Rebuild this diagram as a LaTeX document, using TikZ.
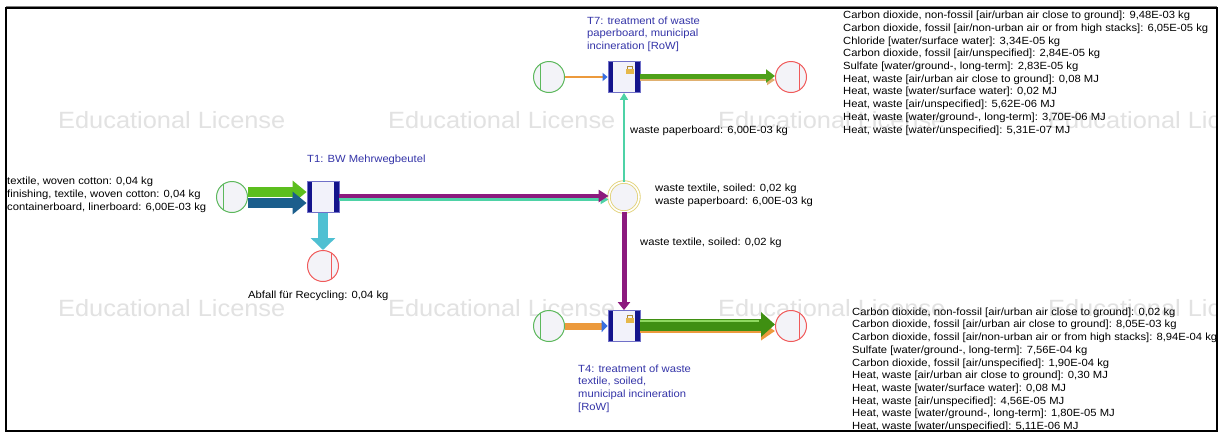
\documentclass[tikz,border=0pt]{standalone}
\usepackage{fontspec}
\setmainfont{Liberation Sans}[FakeStretch=1.08]
\usetikzlibrary{arrows.meta}
\definecolor{boxfill}{HTML}{F2F2FA}
\definecolor{boxedge}{HTML}{7070C8}
\definecolor{boxnavy}{HTML}{14148C}
\definecolor{circfill}{HTML}{F3F3F8}
\definecolor{srcgreen}{HTML}{5CB85C}
\definecolor{sinkred}{HTML}{F05A5A}
\definecolor{hubyellow}{HTML}{E2D27A}
\definecolor{labelblue}{HTML}{3434A8}
\definecolor{flowgreen}{HTML}{5CBE1E}
\definecolor{darkgreen}{HTML}{3F8F12}
\definecolor{lightgreen}{HTML}{8ED860}
\definecolor{flowblue}{HTML}{1B5E8C}
\definecolor{flowcyan}{HTML}{4FC0D2}
\definecolor{flowpurple}{HTML}{8C1A7E}
\definecolor{flowmint}{HTML}{4ED2A6}
\definecolor{floworange}{HTML}{EC9A3C}
\definecolor{flowtan}{HTML}{E0B070}
\definecolor{tipblue}{HTML}{3A6FE0}
\definecolor{lockgold}{HTML}{E6B84A}
\definecolor{wmgray}{HTML}{E2E2E2}
\tikzset{
  procbox/.style={draw=boxedge, fill=boxfill, line width=0.8pt, minimum width=32pt, minimum height=31pt, inner sep=0pt,
    path picture={
      \fill[boxnavy] (path picture bounding box.north west) rectangle ([xshift=5pt]path picture bounding box.south west);
      \fill[boxnavy] (path picture bounding box.north east) rectangle ([xshift=-5pt]path picture bounding box.south east);}},
  srccirc/.style={circle, draw=srcgreen, fill=circfill, line width=1pt, minimum size=31pt, inner sep=0pt,
    path picture={\draw[srcgreen, line width=1pt] ([xshift=-9pt]path picture bounding box.north) -- ([xshift=-9pt]path picture bounding box.south);}},
  sinkcirc/.style={circle, draw=sinkred, fill=circfill, line width=1pt, minimum size=31pt, inner sep=0pt,
    path picture={\draw[sinkred, line width=1pt] ([xshift=8pt]path picture bounding box.north) -- ([xshift=8pt]path picture bounding box.south);}},
  hubcirc/.style={circle, draw=hubyellow, double=white, double distance=1.6pt, line width=0.9pt, fill=circfill, minimum size=30pt, inner sep=0pt},
  flowlabel/.style={font=\fontsize{10.4}{12.7}\selectfont, inner sep=0pt, align=left},
  proclabel/.style={flowlabel, text=labelblue},
  watermark/.style={font=\fontsize{23.5}{28}\selectfont, text=wmgray, inner sep=0pt, anchor=west},
}
\begin{document}
\begin{tikzpicture}[x=1pt,y=-1pt]
\useasboundingbox (0,0) rectangle (1219,432);
\fill[white] (0,0) rectangle (1219,432);
% watermarks
\begin{scope}
\clip (7,9) rectangle (1216,429);
\foreach \wx/\wy [count=\i] in {58/120,388/120,718/120,1048/120,58/308,388/308,718/308,1048/308}
  \node[watermark] (wm\i) at (\wx,\wy) {Educational License};
\end{scope}
% nodes
\node[srccirc] (in1) at (232,197) {};
\node[procbox] (t1) at (323,197) {};
\node[sinkcirc] (out1) at (323,266) {};
\node[hubcirc] (hub) at (624,197) {};
\node[srccirc] (in7) at (549,77) {};
\node[procbox] (t7) at (624,77) {};
\node[sinkcirc] (out7) at (791,77) {};
\node[srccirc] (in4) at (549,326) {};
\node[procbox] (t4) at (624,326) {};
\node[sinkcirc] (out4) at (791,326) {};
% locks
\foreach \b in {t7,t4} {
  \draw[lockgold!75!black, line width=0.9pt] ([xshift=-12.5pt,yshift=-8pt]\b.north east) -- ++(0,-3) -- ++(5,0) -- ++(0,3);
  \fill[lockgold] ([xshift=-14pt,yshift=-7.5pt]\b.north east) rectangle ([xshift=-6pt,yshift=-12.5pt]\b.north east);
}
% flows
\draw[flowgreen, line width=10pt, -{Triangle[length=14pt,width=22pt]}] ([yshift=5pt]in1.east) -- ([yshift=5pt]t1.west);
\draw[flowblue, line width=10pt, -{Triangle[length=14pt,width=22pt]}] ([yshift=-6pt]in1.east) -- ([yshift=-6pt]t1.west);
\draw[flowcyan, line width=10pt, -{Triangle[length=12pt,width=24pt]}] (t1.south) -- (out1.north);
\draw[flowmint, line width=2.5pt, -{Triangle[length=8pt,width=9pt]}] ([yshift=-2.5pt]t1.east) -- ([yshift=-2.5pt]hub.west);
\draw[flowpurple, line width=4pt, -{Triangle[length=10pt,width=12pt]}] ([yshift=1pt]t1.east) -- ([yshift=1pt]hub.west);
\draw[flowmint, line width=1.5pt, -{Triangle[length=7pt,width=8pt]}] (hub.north) -- (t7.south);
\draw[flowpurple, line width=5pt, -{Triangle[length=8pt,width=12pt]}] (hub.south) -- (t4.north);
\draw[floworange, line width=2.5pt, -{Triangle[length=5pt,width=8pt,color=tipblue]}] (in7.east) -- (t7.west);
\draw[flowtan, line width=2pt, -{Triangle[length=8pt,width=10pt]}] ([yshift=-3pt]t7.east) -- ([yshift=-3pt]out7.west);
\draw[flowgreen!85!black, line width=5pt, -{Triangle[length=9pt,width=13pt]}] ([yshift=1pt]t7.east) -- ([yshift=1pt]out7.west);
\draw[floworange, line width=7pt, -{Triangle[length=6pt,width=12pt,color=tipblue]}] (in4.east) -- (t4.west);
\draw[floworange, line width=4pt, -{Triangle[length=14pt,width=18pt]}] ([yshift=-5pt]t4.east) -- ([yshift=-5pt]out4.west);
\draw[darkgreen, line width=12pt, -{Triangle[length=14pt,width=24pt]}] ([yshift=1.5pt]t4.east) -- ([yshift=1.5pt]out4.west);
\draw[lightgreen, line width=1.5pt] ([yshift=5pt]t4.east) -- ([xshift=-16pt,yshift=5pt]out4.west);
% labels
\node[proclabel, anchor=west] (t1lab) at (307,160) {T1: BW Mehrwegbeutel};
\node[proclabel, anchor=north west] (t7lab) at (587,16.5) {T7: treatment of waste\\paperboard, municipal\\incineration {[RoW]}};
\node[proclabel, anchor=north west] (t4lab) at (578,364.5) {T4: treatment of waste\\textile, soiled,\\municipal incineration\\{[RoW]}};
\node[flowlabel, anchor=north west] (inlab) at (7,177) {textile, woven cotton: 0,04 kg\\finishing, textile, woven cotton: 0,04 kg\\containerboard, linerboard: 6,00E-03 kg};
\node[flowlabel, anchor=west] (out1lab) at (248,296) {Abfall für Recycling: 0,04 kg};
\node[flowlabel, anchor=north west] (hublab) at (655,184) {waste textile, soiled: 0,02 kg\\waste paperboard: 6,00E-03 kg};
\node[flowlabel, anchor=west] (uplab) at (630,131) {waste paperboard: 6,00E-03 kg};
\node[flowlabel, anchor=west] (downlab) at (640,243) {waste textile, soiled: 0,02 kg};
\begin{scope}
\clip (7,9) rectangle (1216,429.5);
\node[flowlabel, anchor=north west] (out7lab) at (843,11) {Carbon dioxide, non-fossil [air/urban air close to ground]: 9,48E-03 kg\\Carbon dioxide, fossil [air/non-urban air or from high stacks]: 6,05E-05 kg\\Chloride [water/surface water]: 3,34E-05 kg\\Carbon dioxide, fossil [air/unspecified]: 2,84E-05 kg\\Sulfate [water/ground-, long-term]: 2,83E-05 kg\\Heat, waste [air/urban air close to ground]: 0,08 MJ\\Heat, waste [water/surface water]: 0,02 MJ\\Heat, waste [air/unspecified]: 5,62E-06 MJ\\Heat, waste [water/ground-, long-term]: 3,70E-06 MJ\\Heat, waste [water/unspecified]: 5,31E-07 MJ};
\node[flowlabel, anchor=north west] (out4lab) at (852,307.5) {Carbon dioxide, non-fossil [air/urban air close to ground]: 0,02 kg\\Carbon dioxide, fossil [air/urban air close to ground]: 8,05E-03 kg\\Carbon dioxide, fossil [air/non-urban air or from high stacks]: 8,94E-04 kg\\Sulfate [water/ground-, long-term]: 7,56E-04 kg\\Carbon dioxide, fossil [air/unspecified]: 1,90E-04 kg\\Heat, waste [air/urban air close to ground]: 0,30 MJ\\Heat, waste [water/surface water]: 0,08 MJ\\Heat, waste [air/unspecified]: 4,56E-05 MJ\\Heat, waste [water/ground-, long-term]: 1,80E-05 MJ\\Heat, waste [water/unspecified]: 5,11E-06 MJ};
\end{scope}
% frame
\draw[black, line width=2pt] (6,8) rectangle (1217,430.5);
\draw[gray, line width=0.8pt] (6,6.6) -- (1217,6.6);
\end{tikzpicture}
\end{document}
